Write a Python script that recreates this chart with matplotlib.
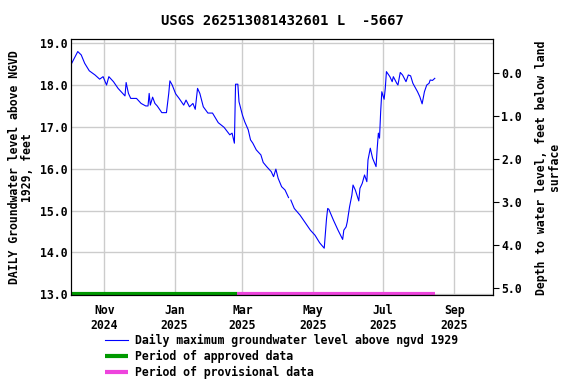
import numpy as np
import pandas as pd
import matplotlib
matplotlib.use('Agg')
import matplotlib.pyplot as plt
import matplotlib.dates as mdates
from matplotlib.ticker import FormatStrFormatter

# daily max groundwater level, ft above NGVD 1929
dates = ['2024-10-03', '2024-10-09', '2024-10-12', '2024-10-15', '2024-10-19',
         '2024-10-24', '2024-10-28', '2024-10-31', '2024-11-03', '2024-11-05',
         '2024-11-09', '2024-11-13', '2024-11-17', '2024-11-19', '2024-11-20',
         '2024-11-22', '2024-11-24', '2024-11-29', '2024-12-03', '2024-12-07',
         '2024-12-09', '2024-12-10', '2024-12-11', '2024-12-13', '2024-12-15',
         '2024-12-17', '2024-12-21', '2024-12-25', '2024-12-27', '2024-12-28',
         '2024-12-30', '2025-01-02', '2025-01-05', '2025-01-09', '2025-01-11',
         '2025-01-14', '2025-01-17', '2025-01-19', '2025-01-21', '2025-01-23',
         '2025-01-26', '2025-01-30', '2025-02-03', '2025-02-08', '2025-02-13',
         '2025-02-18', '2025-02-20', '2025-02-22', '2025-02-23', '2025-02-25',
         '2025-02-26', '2025-03-01', '2025-03-03', '2025-03-06', '2025-03-08',
         '2025-03-10', '2025-03-13', '2025-03-17', '2025-03-19', '2025-03-22',
         '2025-03-26', '2025-03-28', '2025-03-30', '2025-04-01', '2025-04-04',
         '2025-04-07', '2025-04-10', '2025-04-11', '2025-04-12', '2025-04-15',
         '2025-04-20', '2025-04-24', '2025-04-29', '2025-05-03', '2025-05-07',
         '2025-05-11', '2025-05-13', '2025-05-14', '2025-05-15', '2025-05-19',
         '2025-05-23', '2025-05-27', '2025-05-28', '2025-05-30', '2025-05-31',
         '2025-06-02', '2025-06-04', '2025-06-05', '2025-06-07', '2025-06-10',
         '2025-06-11', '2025-06-13', '2025-06-15', '2025-06-17', '2025-06-18',
         '2025-06-20', '2025-06-22', '2025-06-25', '2025-06-26', '2025-06-27',
         '2025-06-28', '2025-06-29', '2025-06-30', '2025-07-02', '2025-07-03',
         '2025-07-04', '2025-07-07', '2025-07-09', '2025-07-10', '2025-07-13',
         '2025-07-14', '2025-07-16', '2025-07-18', '2025-07-21', '2025-07-23',
         '2025-07-25', '2025-07-27', '2025-07-31', '2025-08-02', '2025-08-04',
         '2025-08-06', '2025-08-08', '2025-08-10', '2025-08-11', '2025-08-13',
         '2025-08-15']
levels = [18.48, 18.80, 18.72, 18.52, 18.34,
          18.24, 18.14, 18.20, 18.00, 18.20,
          18.08, 17.92, 17.80, 17.74, 18.06,
          17.80, 17.68, 17.68, 17.56, 17.50,
          17.50, 17.80, 17.52, 17.71, 17.56,
          17.50, 17.34, 17.34, 17.80, 18.10,
          18.00, 17.79, 17.68, 17.52, 17.64,
          17.48, 17.56, 17.42, 17.92, 17.80,
          17.48, 17.33, 17.33, 17.10, 16.99,
          16.81, 16.85, 16.61, 18.02, 18.02,
          17.60, 17.28, 17.12, 16.93, 16.69,
          16.61, 16.45, 16.33, 16.15, 16.05,
          15.93, 15.81, 15.99, 15.77, 15.57,
          15.49, 15.31, np.nan, 15.25, 15.05,
          14.89, 14.73, 14.53, 14.41, 14.23,
          14.10, 14.81, 15.05, 15.03, 14.77,
          14.53, 14.31, 14.53, 14.61, 14.73,
          15.09, 15.37, 15.61, 15.49, 15.23,
          15.53, 15.65, 15.85, 15.69, 16.21,
          16.49, 16.25, 16.05, 16.49, 16.85,
          16.73, 17.36, 17.84, 17.66, 17.92,
          18.32, 18.20, 18.08, 18.20, 18.04,
          18.00, 18.30, 18.24, 18.08, 18.24,
          18.22, 18.04, 17.84, 17.72, 17.55,
          17.84, 18.00, 18.04, 18.12, 18.11,
          18.16]

approved = ['2024-10-03', '2025-02-24']
provisional = ['2025-02-24', '2025-08-15']
bar_level = 13.0

level_ticks = [13.0, 14.0, 15.0, 16.0, 17.0, 18.0, 19.0]
depth_ticks = [0.0, 1.0, 2.0, 3.0, 4.0, 5.0]
month_ticks = ['2024-11-01', '2025-01-01', '2025-03-01', '2025-05-01', '2025-07-01', '2025-09-01']

plt.rcParams['font.family'] = 'DejaVu Sans Mono'
plt.rcParams['font.weight'] = 'bold'
plt.rcParams['axes.titleweight'] = 'bold'
plt.rcParams['axes.labelweight'] = 'bold'
plt.rcParams['font.size'] = 8.3

t = pd.to_datetime(dates)

fig = plt.figure(figsize=(5.76, 3.84), dpi=100)
ax = fig.add_axes([0.124, 0.2305, 0.732, 0.6675])

ax.plot(t, levels, color='#0000ff', lw=0.8,
        label='Daily maximum groundwater level above ngvd 1929')
ax.plot(pd.to_datetime(approved), [bar_level] * 2, color='#009900', lw=3,
        solid_capstyle='butt', label='Period of approved data')
ax.plot(pd.to_datetime(provisional), [bar_level] * 2, color='#ee44dd', lw=3,
        solid_capstyle='butt', label='Period of provisional data')

ax.set_xlim(pd.Timestamp('2024-10-03 12:00'), pd.Timestamp('2025-10-04 14:00'))
ax.set_ylim(12.97, 19.096)
ax.set_yticks(level_ticks)
ax.yaxis.set_major_formatter(FormatStrFormatter('%.1f'))
ax.set_xticks(pd.to_datetime(month_ticks))
ax.xaxis.set_major_formatter(mdates.DateFormatter('%b\n%Y'))
ax.tick_params(axis='x', length=0, pad=6)
ax.tick_params(axis='y', length=0, pad=3)
ax.grid(True, color='#cccccc', lw=1)
ax.set_axisbelow(True)
ax.set_ylabel('DAILY Groundwater level above NGVD\n1929, feet', labelpad=4,
              linespacing=1.0)
ax.set_title('USGS 262513081432601 L  -5667', pad=10)

ax2 = ax.twinx()
ax2.set_ylim(5.167, -0.79)
ax2.set_yticks(depth_ticks)
ax2.yaxis.set_major_formatter(FormatStrFormatter('%.1f'))
ax2.tick_params(axis='y', length=4, pad=2)
ax2.set_ylabel('Depth to water level, feet below land\nsurface', labelpad=9,
               linespacing=1.0)

h, l = ax.get_legend_handles_labels()
fig.legend(h, l, loc='upper left', bbox_to_anchor=(0.175, 0.143), frameon=False,
           handlelength=2.0, handletextpad=0.6, labelspacing=0.25, borderaxespad=0)

fig.savefig('out.png', dpi=100)
